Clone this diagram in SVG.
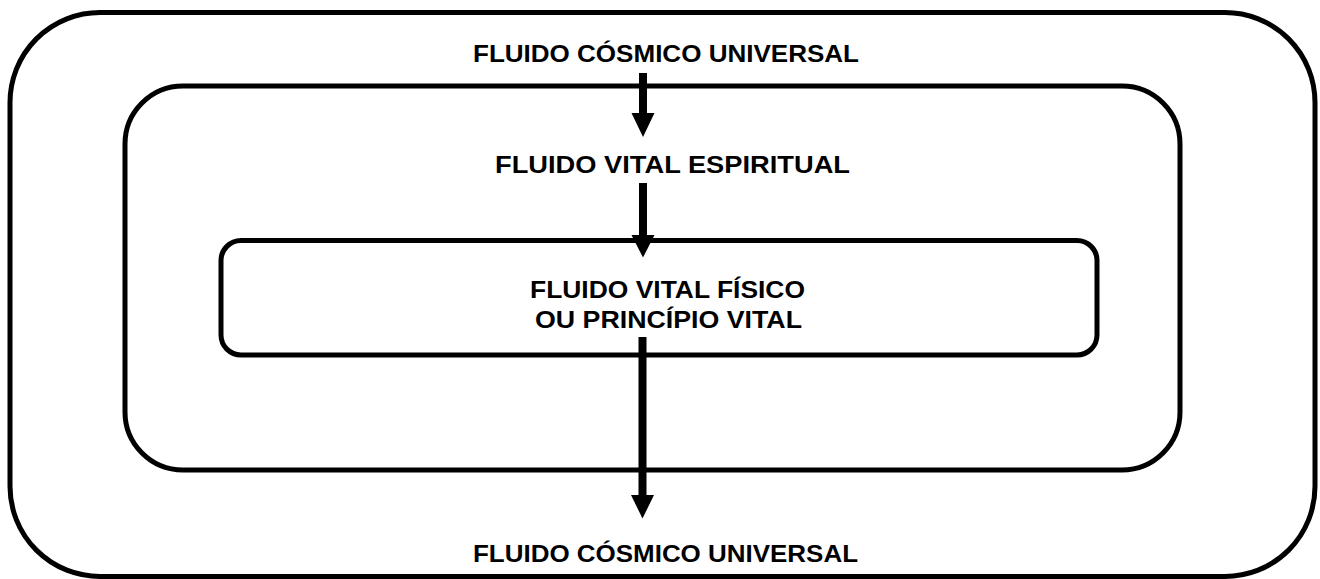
<svg xmlns="http://www.w3.org/2000/svg" width="1320" height="579" viewBox="0 0 1320 579">
<defs>
<style>
.box{fill:none;stroke:#000;stroke-width:5}
.t{font-family:"Liberation Sans",Arial,sans-serif;font-weight:bold;font-size:23.5px;fill:#000;text-anchor:middle}
.shaft{stroke:#000;stroke-width:8;fill:none}
.head{fill:#000}
</style>
</defs>
<rect width="1320" height="579" fill="#fff"/>
<g id="outer"><rect class="box" x="10" y="12.5" width="1305" height="564" rx="90" ry="90"/>
<text class="t" x="666" y="62" textLength="386" lengthAdjust="spacingAndGlyphs">FLUIDO CÓSMICO UNIVERSAL</text>
<text class="t" x="665.5" y="562" textLength="385" lengthAdjust="spacingAndGlyphs">FLUIDO CÓSMICO UNIVERSAL</text></g>
<g id="middle"><rect class="box" x="125" y="86" width="1055" height="384" rx="58" ry="58"/>
<text class="t" x="672.5" y="173" textLength="355" lengthAdjust="spacingAndGlyphs">FLUIDO VITAL ESPIRITUAL</text></g>
<g id="inner"><rect class="box" x="221" y="240.5" width="876" height="114.5" rx="20" ry="20"/>
<text class="t" x="667.5" y="298" textLength="275" lengthAdjust="spacingAndGlyphs">FLUIDO VITAL FÍSICO</text>
<text class="t" x="668.5" y="328" textLength="267" lengthAdjust="spacingAndGlyphs">OU PRINCÍPIO VITAL</text></g>
<g id="connectors">
<line class="shaft" x1="643" y1="73" x2="643" y2="114"/>
<polygon class="head" points="631.5,113 654.5,113 643,137"/>
<line class="shaft" x1="643" y1="183" x2="643" y2="236"/>
<polygon class="head" points="631.5,235 654.5,235 643,257.5"/>
<line class="shaft" x1="642.5" y1="337" x2="642.5" y2="496"/>
<polygon class="head" points="631,495 654,495 642.5,518.5"/>
</g>
</svg>
